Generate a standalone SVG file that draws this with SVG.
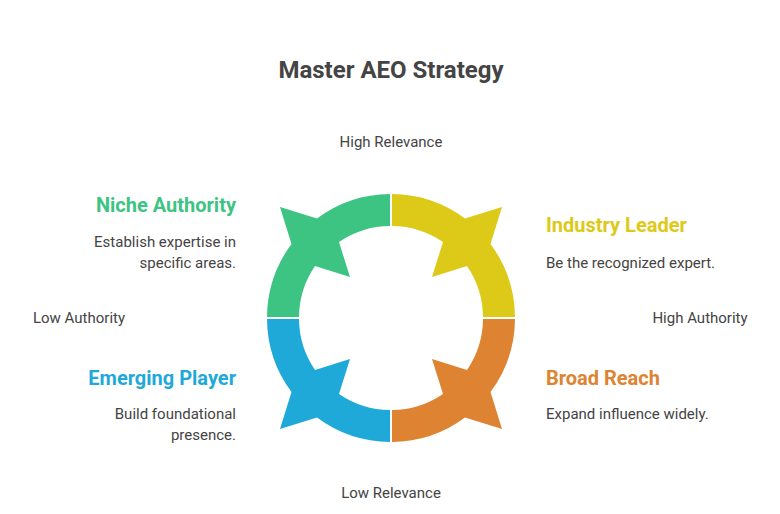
<svg xmlns="http://www.w3.org/2000/svg" width="780" height="514" viewBox="0 0 780 514">
<style>
text{font-family:Roboto,"Liberation Sans",sans-serif}
.t{font-size:24px;font-weight:bold;fill:#444}
.a{font-size:15px;fill:#444}
.h{font-size:20px;font-weight:bold}
.d{font-size:15px;fill:#444}
</style>
<defs>
<path id="q" d="M -1,-124 A124 124 0 0 0 -74,-99.5 L -111,-111 L -99.5,-74 A124 124 0 0 0 -124,-1 L -92,-1 A92 92 0 0 1 -76,-52 L -41,-41 L -52,-76 A92 92 0 0 1 -1,-92 Z"/>
</defs>
<rect width="780" height="514" fill="#fff"/>
<text class="t" x="391" y="78" text-anchor="middle">Master AEO Strategy</text>
<g id="ring" transform="translate(391,318)">
<use id="q-green" href="#q" fill="#3DC482"/>
<use id="q-yellow" href="#q" fill="#DDC918" transform="rotate(90)"/>
<use id="q-orange" href="#q" fill="#DD8331" transform="rotate(180)"/>
<use id="q-blue" href="#q" fill="#1FA9D8" transform="rotate(270)"/>
</g>
<g id="axes">
<text class="a" x="391" y="147" text-anchor="middle">High Relevance</text>
<text class="a" x="391" y="498" text-anchor="middle">Low Relevance</text>
<text class="a" x="79" y="323" text-anchor="middle">Low Authority</text>
<text class="a" x="700" y="323" text-anchor="middle">High Authority</text>
</g>
<g id="niche">
<text class="h" x="236" y="212" text-anchor="end" fill="#3DC482">Niche Authority</text>
<text class="d" x="236" y="247" text-anchor="end">Establish expertise in</text>
<text class="d" x="236" y="268" text-anchor="end">specific areas.</text>
</g>
<g id="industry">
<text class="h" x="546" y="232" fill="#DDC918">Industry Leader</text>
<text class="d" x="546" y="268">Be the recognized expert.</text>
</g>
<g id="emerging">
<text class="h" x="236" y="385" text-anchor="end" fill="#1FA9D8">Emerging Player</text>
<text class="d" x="236" y="419" text-anchor="end">Build foundational</text>
<text class="d" x="236" y="440" text-anchor="end">presence.</text>
</g>
<g id="broad">
<text class="h" x="546" y="385" fill="#DD8331">Broad Reach</text>
<text class="d" x="546" y="419">Expand influence widely.</text>
</g>
</svg>
